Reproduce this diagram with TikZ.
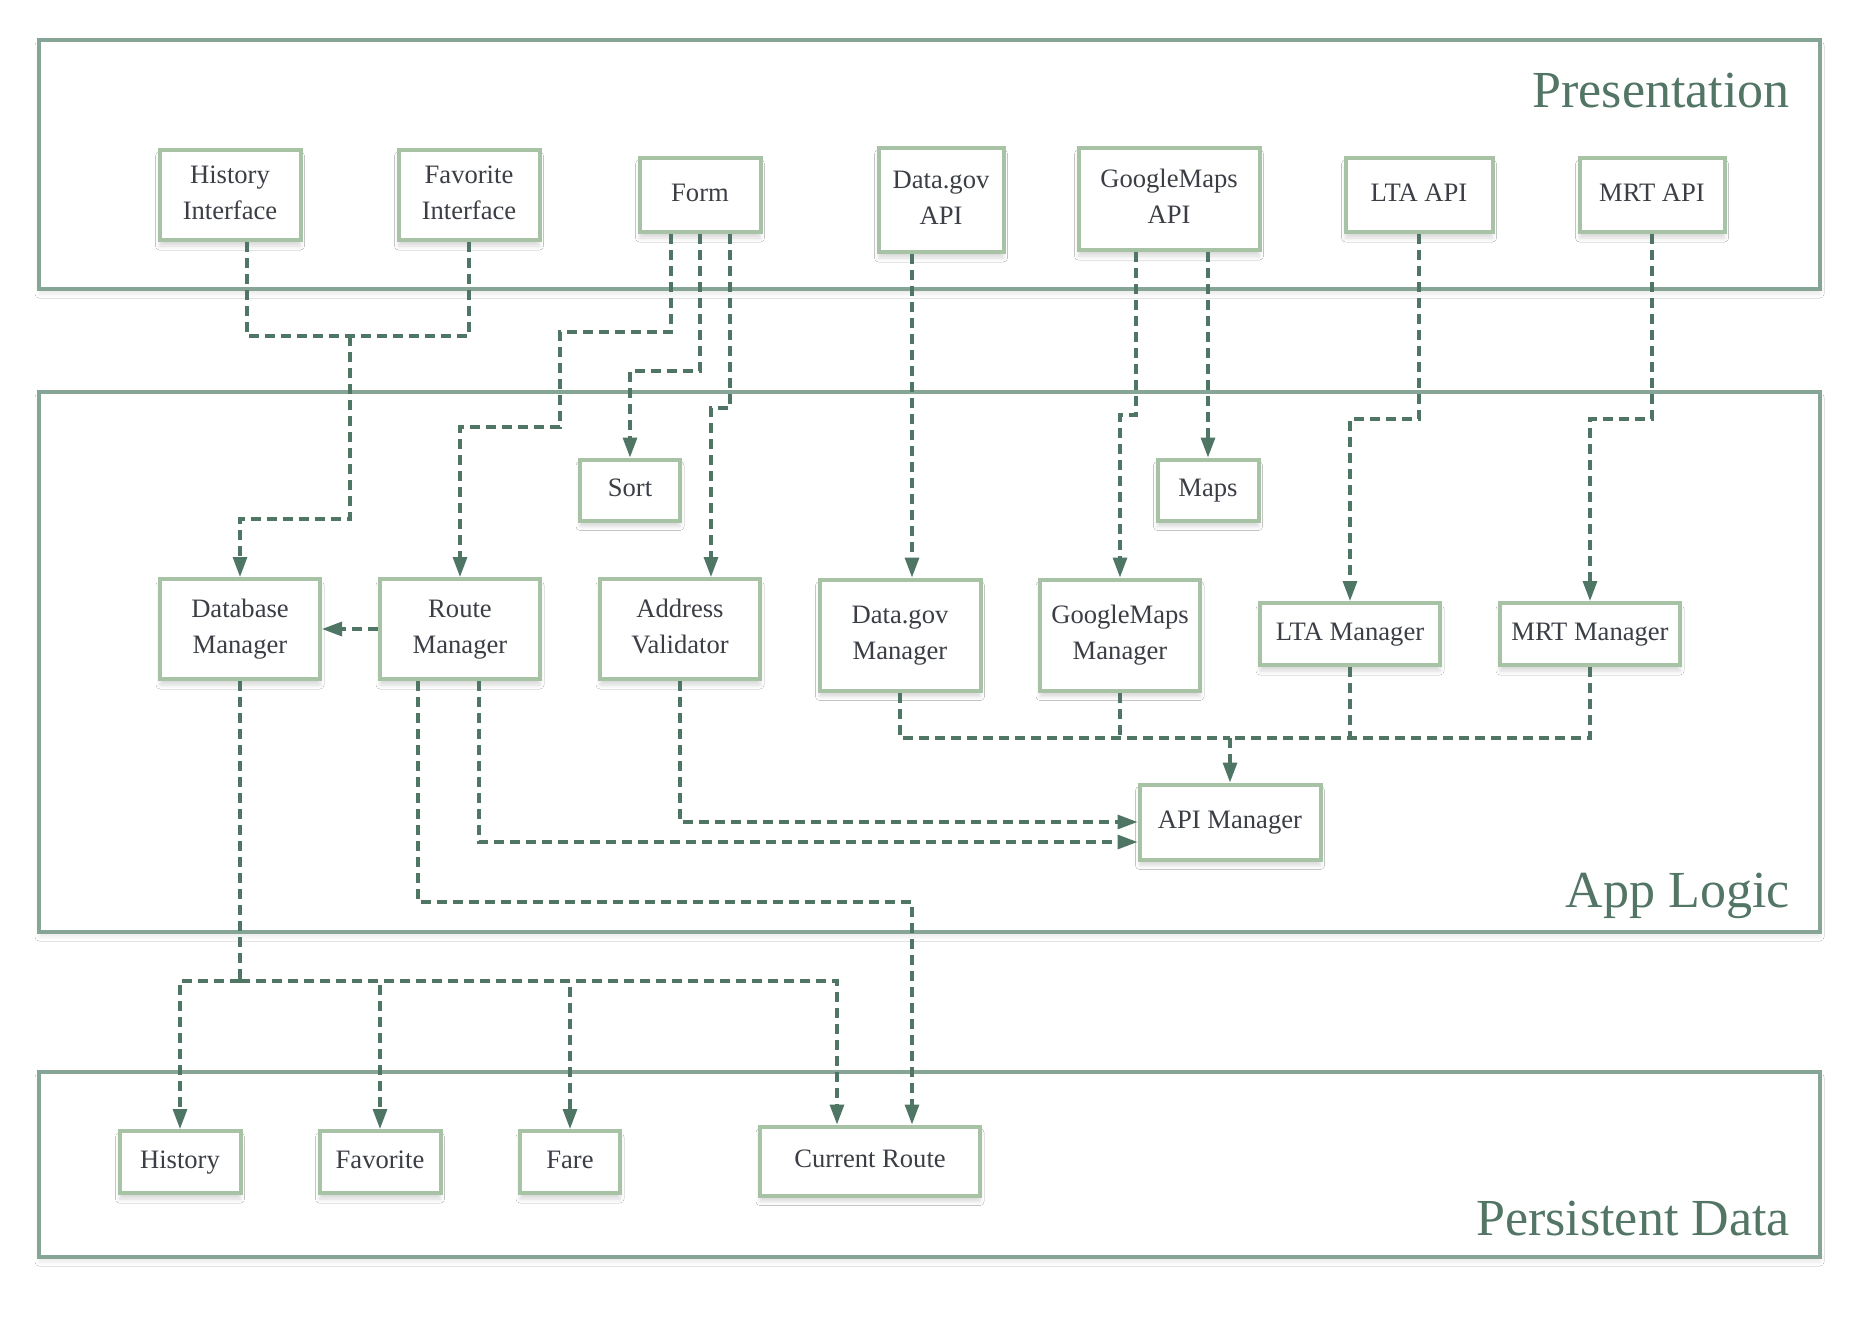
\documentclass[tikz,border=0pt]{standalone}
\usepackage{fontspec}
\setmainfont{Liberation Serif}
\usepackage{tikz}
\usetikzlibrary{arrows.meta, calc, shadows.blur}

\definecolor{layerline}{HTML}{87A597}
\definecolor{boxline}{HTML}{A8C2A6}
\definecolor{flowline}{HTML}{4F7565}
\definecolor{titletext}{HTML}{527565}
\definecolor{boxtext}{HTML}{3B3F45}

\begin{document}
\begin{tikzpicture}[x=0.5pt, y=-0.5pt]
\tikzset{ >={Triangle[length=10pt, width=7pt]},
  layer/.style={draw=layerline, line width=2pt, fill=white,
    blur shadow={shadow xshift=0pt, shadow yshift=-2.5pt, shadow blur radius=2pt, shadow opacity=8}},
  layertitle/.style={anchor=base east, inner sep=0pt, text=titletext, font=\fontsize{26}{30}\selectfont},
  box/.style={draw=boxline, line width=2pt, fill=white, align=center, inner sep=0pt,
    text=boxtext, font=\fontsize{13.3}{18.2}\selectfont,
    execute at begin node={\rule{0pt}{11.3pt}}, execute at end node={\rule[-5.3pt]{0pt}{5.3pt}},
    blur shadow={shadow xshift=0pt, shadow yshift=-3pt, shadow blur radius=2pt, shadow opacity=15}},
  pair/.style={box, execute at begin node={\rule{0pt}{30pt}}},
  flow/.style={draw=flowline, line width=1.6pt, dash pattern=on 5pt off 3pt},
}

\fill [white] (0,0) rectangle (1860,1317);
\useasboundingbox (0,0) rectangle (1860,1317);

% Schichten
\draw [layer] (39,40)   rectangle (1820,289);
\draw [layer] (39,392)  rectangle (1820,932);
\draw [layer] (39,1072) rectangle (1820,1257);

\node [layertitle] (pres_title)  at (1790,107)  {Presentation};
\node [layertitle] (logic_title) at (1790,907)  {App Logic};
\node [layertitle] (data_title)  at (1790,1235) {Persistent Data};

% Presentation
\node [pair, minimum width=70.5pt, minimum height=45pt] (hist_if)  at (230,195)  {History\\Interface};
\node [pair, minimum width=70.5pt, minimum height=45pt] (fav_if)   at (469,195)  {Favorite\\Interface};
\node [box,  minimum width=60.5pt, minimum height=37pt] (form)     at (700,195)  {Form};
\node [pair, minimum width=62.5pt, minimum height=52pt] (dgov_api) at (941,200)  {Data.gov\\API};
\node [pair, minimum width=90.5pt, minimum height=51pt] (gm_api)   at (1169,199) {GoogleMaps\\API};
\node [box,  minimum width=73.5pt, minimum height=37pt] (lta_api)  at (1419,195) {LTA API};
\node [box,  minimum width=72.5pt, minimum height=37pt] (mrt_api)  at (1652,195) {MRT API};

% App Logic
\node [box,  minimum width=50pt,   minimum height=30.5pt] (sort)      at (630,490)  {Sort};
\node [box,  minimum width=50.5pt, minimum height=30.5pt] (maps)      at (1208,490) {Maps};
\node [pair, minimum width=80pt,   minimum height=50pt]   (db_mgr)    at (240,629)  {Database\\Manager};
\node [pair, minimum width=80pt,   minimum height=50pt]   (route_mgr) at (460,629)  {Route\\Manager};
\node [pair, minimum width=80pt,   minimum height=50pt]   (addr_val)  at (680,629)  {Address\\Validator};
\node [pair, minimum width=80.5pt, minimum height=55.5pt] (dgov_mgr)  at (900,635)  {Data.gov\\Manager};
\node [pair, minimum width=80pt,   minimum height=55.5pt] (gm_mgr)    at (1120,635) {GoogleMaps\\Manager};
\node [box,  minimum width=90pt,   minimum height=31pt]   (lta_mgr)   at (1350,634) {LTA Manager};
\node [box,  minimum width=90pt,   minimum height=31pt]   (mrt_mgr)   at (1590,634) {MRT Manager};
\node [box,  minimum width=90.5pt, minimum height=37.5pt] (api_mgr)   at (1230,822) {API Manager};

% Persistent Data
\node [box, minimum width=60.5pt, minimum height=31pt]   (hist)      at (180,1162) {History};
\node [box, minimum width=60.5pt, minimum height=31pt]   (fav)       at (380,1162) {Favorite};
\node [box, minimum width=50pt,   minimum height=31pt]   (fare)      at (570,1162) {Fare};
\node [box, minimum width=110pt,  minimum height=34.5pt] (cur_route) at (870,1161) {Current Route};

% Interfaces -> Database Manager
\coordinate (j_if) at (350,336);
\draw [flow] ($(hist_if.south)+(17,0)$) |- (j_if);
\draw [flow] (fav_if.south) |- (j_if);
\draw [flow,->] (j_if) -- ++(0,183) -| (db_mgr.north);

% Form
\draw [flow,->] ($(form.south)+(-29,0)$) -- ++(0,98) -- ++(-111,0) -- ++(0,95) -| (route_mgr.north);
\draw [flow,->] (form.south) -- ++(0,137) -| (sort.north);
\draw [flow,->] ($(form.south)+(30,0)$) -- ++(0,174) -| ($(addr_val.north)+(31,0)$);

% APIs -> Manager
\draw [flow,->] ($(dgov_api.south)+(-29,0)$) -- ($(dgov_mgr.north)+(12,0)$);
\draw [flow,->] ($(gm_api.south)+(-33,0)$) -- ++(0,163) -| (gm_mgr.north);
\draw [flow,->] ($(gm_api.south)+(39,0)$) -- (maps.north);
\draw [flow,->] (lta_api.south) -- ++(0,185) -| (lta_mgr.north);
\draw [flow,->] (mrt_api.south) -- ++(0,185) -| (mrt_mgr.north);

\draw [flow,->] (route_mgr.west) -- (db_mgr.east);

% Manager -> API Manager
\coordinate (j_api) at (1230,738);
\draw [flow] (dgov_mgr.south) |- (j_api);
\draw [flow] (gm_mgr.south) -- (gm_mgr.south |- j_api);
\draw [flow] (mrt_mgr.south) |- (j_api);
\draw [flow] (lta_mgr.south) -- (lta_mgr.south |- j_api);
\draw [flow,->] (j_api) -- (api_mgr.north);

\draw [flow,->] (addr_val.south) |- (api_mgr.west);
\draw [flow,->] ($(route_mgr.south)+(19,0)$) |- ($(api_mgr.west)+(0,20)$);
\draw [flow,->] ($(route_mgr.south)+(-42,0)$) -- ++(0,221) -| ($(cur_route.north)+(42,0)$);

% Database Manager -> Persistent Data
\coordinate (j_db) at (240,981);
\draw [flow] (db_mgr.south) -- (j_db);
\draw [flow,->] (j_db) -| (hist.north);
\draw [flow,->] (j_db) -| (fav.north);
\draw [flow,->] (j_db) -| (fare.north);
\draw [flow,->] (j_db) -| ($(cur_route.north)+(-33,0)$);

\end{tikzpicture}
\end{document}
